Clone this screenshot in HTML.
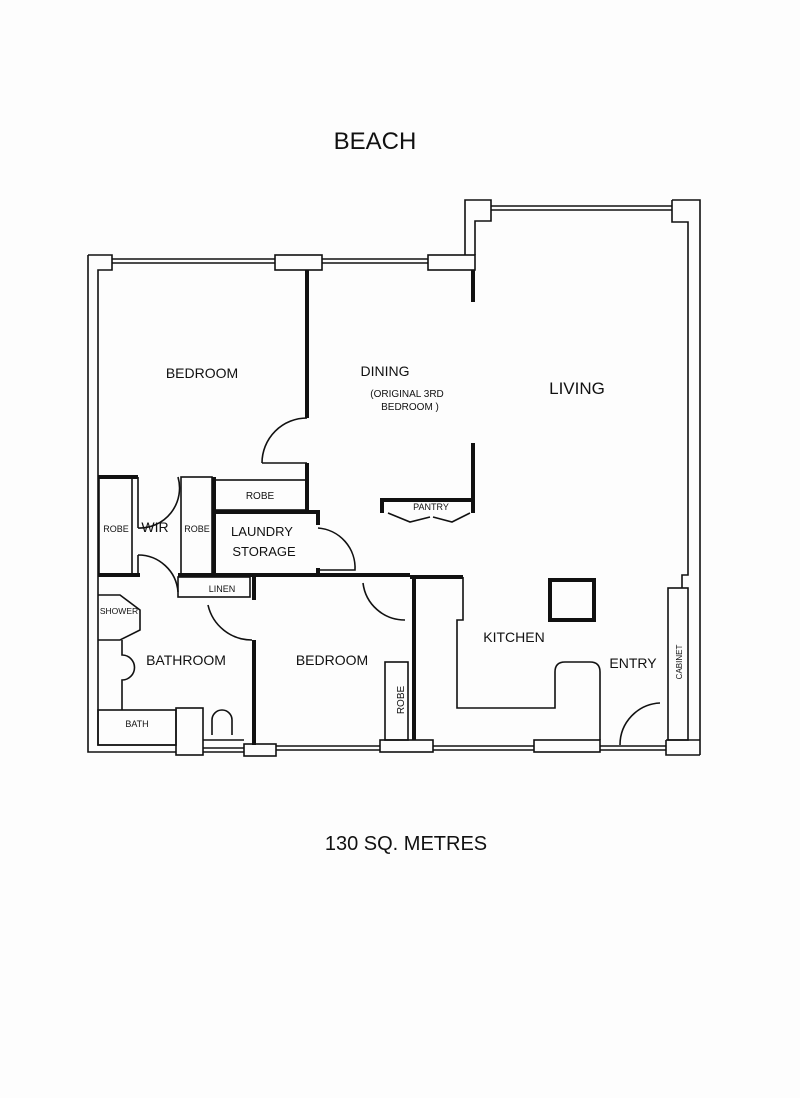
<!DOCTYPE html>
<html><head><meta charset="utf-8"><style>
body{margin:0;background:#fff}
svg{display:block}
text{font-family:"Liberation Sans",sans-serif;fill:#111}
</style></head><body>
<svg width="800" height="1098" viewBox="0 0 800 1098" xmlns="http://www.w3.org/2000/svg">
<rect width="800" height="1098" fill="#fdfdfd"/>
<g fill="none" stroke="#111" stroke-width="1.6">
<path d="M88 255 H112 V270 H98 V745 H176"/>
<path d="M88 255 V752 H176"/>
<path d="M112 259 H275 M112 263 H275"/>
<rect x="275" y="255" width="47" height="15"/>
<path d="M322 259 H428 M322 263 H428"/>
<rect x="428" y="255" width="47" height="15"/>
<path d="M465 255 V200 H491 V221 H475 V255"/>
<path d="M491 206 H672 M491 210 H672"/>
<path d="M672 200 H700 V755 M672 200 V222 H688 V575 H682 V588"/>
<rect x="668" y="588" width="20" height="152"/>
<path d="M666 740 H700 M666 740 V755 H700"/>
<rect x="176" y="708" width="27" height="47"/>
<path d="M203 748 H244 M203 752 H244"/>
<rect x="244" y="744" width="32" height="12"/>
<path d="M276 746 H380 M276 750 H380"/>
<rect x="380" y="740" width="53" height="12"/>
<path d="M433 746 H534 M433 750 H534"/>
<rect x="534" y="740" width="66" height="12"/>
<path d="M600 746 H666 M600 750 H666"/>
<rect x="99" y="477" width="33" height="98"/>
<path d="M138 477 V528 M138 555 V575"/>
<path d="M138 528 A40 40 0 0 0 178 477"/>
<path d="M138 555 A40 40 0 0 1 178 592"/>
<rect x="181" y="477" width="31" height="98"/>
<rect x="214" y="480" width="93" height="30"/>
<rect x="178" y="577" width="72" height="20"/>
<path d="M98 595 H120 L140 610 V630 L120 640 H98"/>
<path d="M122 640 V655 A12 12 0 0 1 122 680 V710"/>
<rect x="98" y="710" width="78" height="35"/>
<path d="M203 740 H244 M212 735 V720 A10 10 0 0 1 232 720 V735"/>
<path d="M208 605 A45 45 0 0 0 252 640"/>
<path d="M262 463 A45 45 0 0 1 307 418 M262 463 H307"/>
<path d="M318 528 A40 40 0 0 1 355 570 H318"/>
<path d="M363 583 A42 42 0 0 0 405 620"/>
<rect x="385" y="662" width="23" height="78"/>
<path d="M463 577 V620 H457 V708 H555 V672 Q555 662 565 662 H590 Q600 662 600 672 V740"/>
<path d="M620 745 A42 42 0 0 1 660 703"/>
<path d="M388 513 L410 522 L430 517 M433 517 L452 522 L470 513"/>
</g>
<g fill="none" stroke="#111" stroke-width="4">
<path d="M307 270 V418 M307 463 V510"/>
<path d="M473 270 V302 M473 443 V513 M380 500 H473 M382 500 V513"/>
<path d="M98 477 H138 M214 477 V575 M214 512 H318 V525 M178 575 H410 M318 575 V568"/>
<path d="M98 575 H140 M254 577 V600 M254 640 V745"/>
<path d="M414 577 V740 M410 577 H463"/>
<rect x="550" y="580" width="44" height="40"/>
</g>
<g>
<text x="375" y="149" font-size="24" text-anchor="middle">BEACH</text>
<text x="202" y="378" font-size="14" text-anchor="middle">BEDROOM</text>
<text x="385" y="376" font-size="14" text-anchor="middle">DINING</text>
<text x="407" y="397" font-size="10" text-anchor="middle">(ORIGINAL 3RD</text>
<text x="410" y="410" font-size="10" text-anchor="middle">BEDROOM )</text>
<text x="577" y="394" font-size="17" text-anchor="middle">LIVING</text>
<text x="431" y="510" font-size="9" text-anchor="middle">PANTRY</text>
<text x="260" y="499" font-size="10" text-anchor="middle">ROBE</text>
<text x="116" y="532" font-size="9" text-anchor="middle">ROBE</text>
<text x="155" y="532" font-size="14" text-anchor="middle">WIR</text>
<text x="197" y="532" font-size="9" text-anchor="middle">ROBE</text>
<text x="262" y="536" font-size="13" text-anchor="middle">LAUNDRY</text>
<text x="264" y="556" font-size="13" text-anchor="middle">STORAGE</text>
<text x="222" y="592" font-size="9" text-anchor="middle">LINEN</text>
<text x="119" y="614" font-size="8.5" text-anchor="middle">SHOWER</text>
<text x="186" y="665" font-size="14" text-anchor="middle">BATHROOM</text>
<text x="332" y="665" font-size="14" text-anchor="middle">BEDROOM</text>
<text x="514" y="642" font-size="14" text-anchor="middle">KITCHEN</text>
<text x="633" y="668" font-size="14" text-anchor="middle">ENTRY</text>
<text x="137" y="727" font-size="9" text-anchor="middle">BATH</text>
<text font-size="10" text-anchor="middle" transform="translate(404 700) rotate(-90)">ROBE</text>
<text font-size="8" text-anchor="middle" transform="translate(682 662) rotate(-90)">CABINET</text>
<text x="406" y="850" font-size="20" text-anchor="middle">130   SQ. METRES</text>
</g>
</svg>
</body></html>
